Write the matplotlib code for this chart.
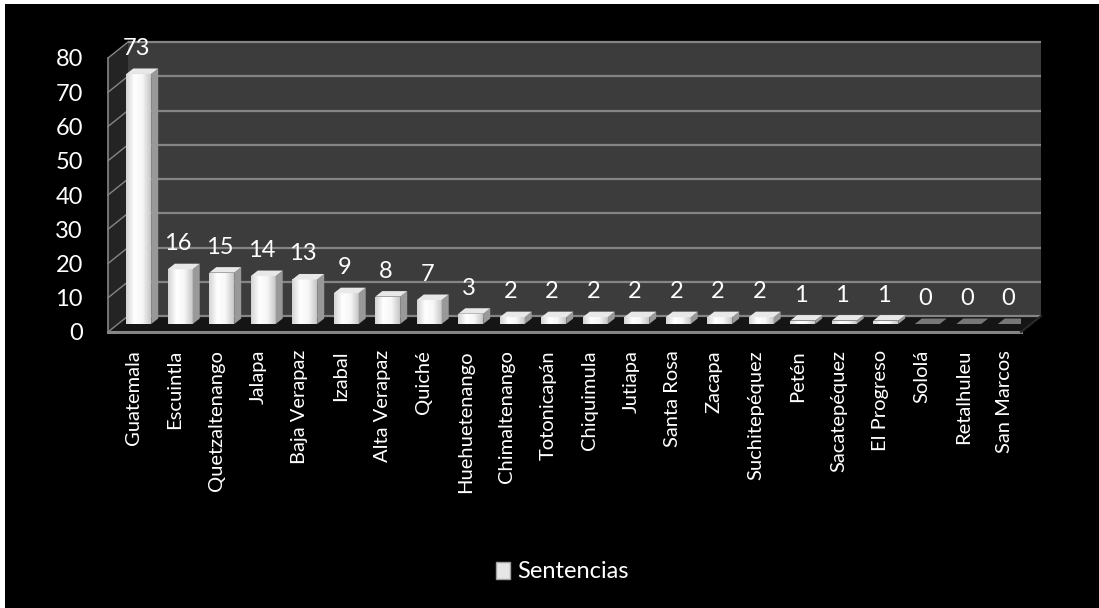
import matplotlib
matplotlib.use("Agg")
import matplotlib.pyplot as plt
import numpy as np
from matplotlib.patches import Polygon, Rectangle, Patch
from matplotlib.colors import LinearSegmentedColormap

# datos
departamentos = [
    "Guatemala", "Escuintla", "Quetzaltenango", "Jalapa", "Baja Verapaz",
    "Izabal", "Alta Verapaz", "Quiché", "Huehuetenango", "Chimaltenango",
    "Totonicapán", "Chiquimula", "Jutiapa", "Santa Rosa", "Zacapa",
    "Suchitepéquez", "Petén", "Sacatepéquez", "El Progreso", "Sololá",
    "Retalhuleu", "San Marcos",
]
sentencias = [73, 16, 15, 14, 13, 9, 8, 7, 3, 2, 2, 2, 2, 2, 2, 2, 1, 1, 1, 0, 0, 0]
y_ticks = [0, 10, 20, 30, 40, 50, 60, 70, 80]
serie = "Sentencias"

plt.rcParams["font.family"] = ["Lato", "DejaVu Sans"]

W, H = 1099, 608
fig = plt.figure(figsize=(W / 100, H / 100), dpi=100, facecolor="white")
fig.patches.append(Rectangle((5 / W, 0), 1, 1 - 4 / H, transform=fig.transFigure,
                             facecolor="black", edgecolor="none", zorder=-10))

# plano frontal del grafico (pixeles)
left, right, top, bottom = 108, 1021, 58, 332
ax = fig.add_axes([left / W, 1 - bottom / H, (right - left) / W, (bottom - top) / H])
ax.set_facecolor("none")
n = len(departamentos)
ymax = y_ticks[-1]

px_x = (right - left) / n
px_y = (bottom - top) / ymax
ddx = 20 / px_x  # profundidad de la caja 3D en unidades de datos
ddy = 16 / px_y
grid_c = "#858585"

# pared del fondo, pared lateral y piso
ax.add_patch(Rectangle((-0.5 + ddx, ddy), n, ymax, facecolor="#3c3c3c",
                       edgecolor="none", zorder=0, clip_on=False))
ax.add_patch(Polygon([(-0.5, 0), (-0.5, ymax), (-0.5 + ddx, ymax + ddy), (-0.5 + ddx, ddy)],
                     facecolor="#242424", edgecolor="none", zorder=0.5, clip_on=False))
ax.add_patch(Polygon([(-0.5, 0), (n - 0.5, 0), (n - 0.5 + ddx, ddy), (-0.5 + ddx, ddy)],
                     facecolor="#151515", edgecolor="none", zorder=0.6, clip_on=False))

for t in y_ticks:
    ax.plot([-0.5 + ddx, n - 0.5 + ddx], [t + ddy, t + ddy], color=grid_c, lw=1.6,
            zorder=1, clip_on=False, solid_capstyle="butt")
    ax.plot([-0.5, -0.5 + ddx], [t, t + ddy], color=grid_c, lw=1, zorder=1, clip_on=False)

# aristas frontales
ax.plot([-0.5, -0.5], [0, ymax], color=grid_c, lw=1.2, zorder=1, clip_on=False)
ax.plot([-0.5, n - 0.5], [0, 0], color=grid_c, lw=2.2, zorder=1, clip_on=False)
ax.plot([n - 0.5, n - 0.5 + ddx], [0, ddy], color="#2a2a2a", lw=1.5, zorder=1, clip_on=False)

# barras
x = np.arange(n) + 0.5 * ddx
base = 0.5 * ddy
bw = 0.6
bdx = 7 / px_x
bdy = 5.5 / px_y
bars = ax.bar(x, sentencias, width=bw, bottom=base, color="#f4f4f4", zorder=3)

cmap = LinearSegmentedColormap.from_list("cil", ["#d4d4d4", "#ffffff", "#f6f6f6", "#c6c6c6"])
grad = np.linspace(0, 1, 64).reshape(1, -1)

for xi, v, b in zip(x, sentencias, bars):
    if v > 0:
        im = ax.imshow(grad, extent=(xi - bw / 2, xi + bw / 2, base, base + v), cmap=cmap,
                       aspect="auto", zorder=3.1)
        im.set_clip_path(b)
        ax.add_patch(Polygon([(xi + bw / 2, base), (xi + bw / 2, base + v),
                              (xi + bw / 2 + bdx, base + v + bdy), (xi + bw / 2 + bdx, base + bdy)],
                             facecolor="#999999", edgecolor="none", zorder=3.2))
    top_c = "#e8e8e8" if v > 0 else "#777777"
    ax.add_patch(Polygon([(xi - bw / 2, base + v), (xi + bw / 2, base + v),
                          (xi + bw / 2 + bdx, base + v + bdy), (xi - bw / 2 + bdx, base + v + bdy)],
                         facecolor=top_c, edgecolor="none", zorder=3.3))
    ax.annotate(str(v), (xi, base + v), xytext=(-2, 19), textcoords="offset pixels",
                ha="center", va="baseline", fontsize=17, color="white", zorder=5,
                annotation_clip=False)

ax.set_xlim(-0.5, n - 0.5)
ax.set_ylim(0, ymax)

ax.set_xticks(np.arange(n) + 4.5 / px_x, departamentos, rotation=90)
ax.tick_params(axis="x", length=0, pad=13, labelsize=14.5, labelcolor="white")
ax.set_yticks(y_ticks)
ax.tick_params(axis="y", length=0, pad=18, labelsize=17, labelcolor="white")
for s in ax.spines.values():
    s.set_visible(False)

fig.legend(handles=[Patch(facecolor="#e6e6e6", edgecolor="#a0a0a0", label=serie)],
           loc="center", bbox_to_anchor=(562 / W, 1 - 572 / H), frameon=False,
           fontsize=17, labelcolor="white", handlelength=0.6, handleheight=0.7,
           handletextpad=0.3)

fig.savefig("out.png", dpi=100, facecolor=fig.get_facecolor())
